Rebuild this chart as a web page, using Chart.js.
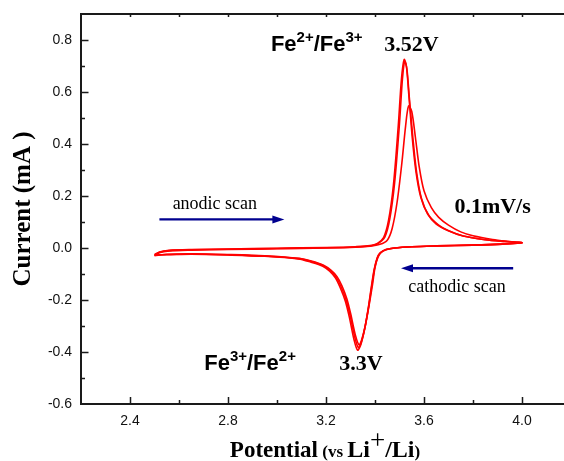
<!DOCTYPE html>
<html>
<head>
<meta charset="utf-8">
<script src="https://cdn.jsdelivr.net/npm/chart.js@4.4.0/dist/chart.umd.min.js"></script>
<style>
  html, body { margin: 0; padding: 0; background: #fff; overflow: hidden; }
  #wrap { width: 564px; height: 461px; overflow: hidden; position: relative; }
  #box { position: absolute; left: 0; top: 0; width: 572px; height: 461px; }
</style>
</head>
<body>
<div id="wrap"><div id="box"><canvas id="chart"></canvas></div></div>
<script>
// cyclic voltammetry, three cycles at 0.1 mV/s (anodic sweep then cathodic sweep)
var cycle1V = [2.50,2.52,2.56,2.65,2.80,3.00,3.20,3.32,3.38,3.42,3.45,3.47,3.49,3.51,3.525,3.537,3.55,3.565,3.58,3.60,3.63,3.66,3.70,3.75,3.80,3.88,3.95,4.00,
               3.92,3.80,3.65,3.55,3.48,3.445,3.425,3.412,3.40,3.39,3.375,3.36,3.345,3.335,3.32,3.30,3.285,3.265,3.245,3.22,3.19,3.14,3.09,2.95,2.80,2.65,2.55,2.50];
var cycle1I = [-0.030,-0.018,-0.011,-0.008,-0.006,-0.003,0.000,0.003,0.007,0.014,0.030,0.075,0.175,0.330,0.470,0.546,0.525,0.425,0.315,0.220,0.155,0.118,0.088,0.062,0.047,0.033,0.025,0.020,
               0.015,0.011,0.008,0.005,0.000,-0.006,-0.017,-0.035,-0.075,-0.140,-0.225,-0.300,-0.355,-0.373,-0.335,-0.250,-0.195,-0.145,-0.110,-0.085,-0.066,-0.050,-0.040,-0.030,-0.025,-0.022,-0.024,-0.030];

var cycle2V = [2.50,2.52,2.56,2.65,2.80,3.00,3.20,3.32,3.38,3.41,3.44,3.46,3.48,3.50,3.512,3.521,3.53,3.54,3.555,3.57,3.59,3.62,3.66,3.70,3.76,3.85,3.93,4.00,
               3.92,3.80,3.65,3.55,3.48,3.445,3.423,3.41,3.398,3.387,3.373,3.358,3.343,3.332,3.318,3.298,3.282,3.262,3.242,3.218,3.19,3.14,3.09,2.95,2.80,2.65,2.55,2.50];
var cycle2I = [-0.028,-0.016,-0.010,-0.007,-0.005,-0.002,0.001,0.004,0.008,0.016,0.042,0.110,0.250,0.480,0.650,0.718,0.690,0.580,0.420,0.290,0.190,0.125,0.088,0.066,0.046,0.032,0.025,0.020,
               0.015,0.011,0.008,0.005,0.000,-0.006,-0.018,-0.038,-0.080,-0.145,-0.232,-0.310,-0.365,-0.383,-0.345,-0.258,-0.200,-0.150,-0.113,-0.087,-0.068,-0.052,-0.041,-0.031,-0.026,-0.023,-0.025,-0.028];

var cycle3V = [2.50,2.52,2.56,2.65,2.80,3.00,3.20,3.32,3.38,3.41,3.435,3.455,3.475,3.495,3.508,3.519,3.528,3.538,3.552,3.567,3.587,3.615,3.65,3.70,3.76,3.85,3.93,4.00,
               3.92,3.80,3.65,3.55,3.48,3.445,3.42,3.408,3.396,3.385,3.371,3.356,3.341,3.329,3.315,3.295,3.279,3.259,3.239,3.215,3.187,3.137,3.087,2.95,2.80,2.65,2.55,2.50];
var cycle3I = [-0.026,-0.015,-0.009,-0.006,-0.004,-0.001,0.002,0.005,0.009,0.018,0.040,0.105,0.240,0.470,0.650,0.725,0.700,0.590,0.425,0.295,0.195,0.130,0.092,0.066,0.046,0.032,0.025,0.020,
               0.015,0.011,0.008,0.005,0.000,-0.007,-0.020,-0.040,-0.085,-0.150,-0.240,-0.320,-0.375,-0.393,-0.355,-0.265,-0.205,-0.155,-0.116,-0.089,-0.070,-0.054,-0.042,-0.032,-0.027,-0.024,-0.026,-0.026];

var xMin = 2.2, xMax = 4.2;
var yMin = -0.6, yMax = 0.9;

var SANS = '"Liberation Sans", Arial, sans-serif';
var SERIF = '"Liberation Serif", "Times New Roman", serif';

function toPoints(vs, is) {
    var pts = [];
    for (var i = 0; i < vs.length; i++) pts.push({x: vs[i], y: is[i]});
    return pts;
}

function drawRuns(ctx, x, y, runs, align) {
    var total = 0;
    runs.forEach(function(r) { ctx.font = r.f; r.w = ctx.measureText(r.t).width; total += r.w; });
    var cx = align === 'center' ? x - total / 2 : x;
    ctx.textAlign = 'left';
    ctx.textBaseline = 'alphabetic';
    runs.forEach(function(r) {
        ctx.font = r.f;
        ctx.fillText(r.t, cx, y - (r.rise || 0));
        cx += r.w;
    });
}

function arrow(ctx, x1, y1, x2, y2) {
    var dir = x2 > x1 ? 1 : -1;
    ctx.save();
    ctx.strokeStyle = '#00008f';
    ctx.fillStyle = '#00008f';
    ctx.lineWidth = 2.4;
    ctx.beginPath();
    ctx.moveTo(x1, y1);
    ctx.lineTo(x2 - dir * 8, y2);
    ctx.stroke();
    ctx.beginPath();
    ctx.moveTo(x2, y2);
    ctx.lineTo(x2 - dir * 12, y2 - 4);
    ctx.lineTo(x2 - dir * 12, y2 + 4);
    ctx.closePath();
    ctx.fill();
    ctx.restore();
}

var decor = {
    id: 'decor',
    afterDraw: function(chart) {
        var ctx = chart.ctx, a = chart.chartArea;
        var xs = chart.scales.x, ys = chart.scales.y;
        ctx.save();
        // frame (right side falls just outside the visible area, as in the original crop)
        ctx.strokeStyle = '#1a1a1a';
        ctx.lineWidth = 2;
        ctx.strokeRect(a.left, a.top, a.right - a.left, a.bottom - a.top);
        // inward ticks
        ctx.lineWidth = 1.5;
        ctx.beginPath();
        xs.ticks.forEach(function(t) {
            var k = Math.round(t.value * 10);
            if (k <= 22 || k >= 42) return;
            var px = Math.round(xs.getPixelForValue(t.value)) + 0.5;
            var len = (k % 4 === 0) ? 7 : 4;
            ctx.moveTo(px, a.bottom); ctx.lineTo(px, a.bottom - len);
            ctx.moveTo(px, a.top); ctx.lineTo(px, a.top + 3);
        });
        ys.ticks.forEach(function(t) {
            var k = Math.round(t.value * 10);
            if (k <= -6 || k >= 9) return;
            var py = Math.round(ys.getPixelForValue(t.value)) + 0.5;
            var len = (k % 2 === 0) ? 7.5 : 4;
            ctx.moveTo(a.left, py); ctx.lineTo(a.left + len, py);
        });
        ctx.stroke();

        // axis titles
        ctx.fillStyle = '#000';
        drawRuns(ctx, 325, 457, [
            {t: 'Potential', f: 'bold 23px ' + SERIF},
            {t: ' (vs ', f: 'bold 17px ' + SERIF},
            {t: 'Li', f: 'bold 24px ' + SERIF},
            {t: '+', f: '27px ' + SERIF, rise: 8},
            {t: '/Li', f: 'bold 24px ' + SERIF},
            {t: ')', f: 'bold 17px ' + SERIF}
        ], 'center');
        ctx.save();
        ctx.translate(30, (a.top + a.bottom) / 2);
        ctx.rotate(-Math.PI / 2);
        ctx.font = 'bold 25px ' + SERIF;
        ctx.textAlign = 'center';
        ctx.textBaseline = 'alphabetic';
        ctx.fillText('Current (mA )', 0, 0);
        ctx.restore();

        // annotations (anchored in data units)
        var X = function(v) { return xs.getPixelForValue(v); };
        var Y = function(v) { return ys.getPixelForValue(v); };
        drawRuns(ctx, X(2.975), Y(0.757), [
            {t: 'Fe', f: 'bold 22px ' + SANS},
            {t: '2+', f: 'bold 15px ' + SANS, rise: 9},
            {t: '/Fe', f: 'bold 22px ' + SANS},
            {t: '3+', f: 'bold 15px ' + SANS, rise: 9}
        ]);
        drawRuns(ctx, X(3.438), Y(0.757), [{t: '3.52V', f: 'bold 22px ' + SERIF}]);
        drawRuns(ctx, X(3.724), Y(0.135), [{t: '0.1mV/s', f: 'bold 22px ' + SERIF}]);
        drawRuns(ctx, X(2.574), Y(0.149), [{t: 'anodic scan', f: '18px ' + SERIF}]);
        arrow(ctx, X(2.520), Y(0.110), X(3.030), Y(0.110));
        drawRuns(ctx, X(3.536), Y(-0.168), [{t: 'cathodic scan', f: '18px ' + SERIF}]);
        arrow(ctx, X(3.964), Y(-0.078), X(3.506), Y(-0.078));
        drawRuns(ctx, X(2.703), Y(-0.469), [
            {t: 'Fe', f: 'bold 22px ' + SANS},
            {t: '3+', f: 'bold 15px ' + SANS, rise: 9},
            {t: '/Fe', f: 'bold 22px ' + SANS},
            {t: '2+', f: 'bold 15px ' + SANS, rise: 9}
        ]);
        drawRuns(ctx, X(3.254), Y(-0.469), [{t: '3.3V', f: 'bold 22px ' + SERIF}]);
        ctx.restore();
    }
};

var lineStyle = {showLine: true, borderColor: '#ff0000', borderWidth: 1.6, pointRadius: 0, tension: 0.3, fill: false};

new Chart(document.getElementById('chart'), {
    type: 'scatter',
    data: {
        datasets: [
            Object.assign({label: 'cycle 1', data: toPoints(cycle1V, cycle1I)}, lineStyle),
            Object.assign({label: 'cycle 2', data: toPoints(cycle2V, cycle2I)}, lineStyle),
            Object.assign({label: 'cycle 3', data: toPoints(cycle3V, cycle3I)}, lineStyle)
        ]
    },
    options: {
        responsive: true,
        maintainAspectRatio: false,
        animation: false,
        devicePixelRatio: 1,
        layout: {padding: {top: 14, right: 1, left: 0, bottom: 0}},
        plugins: {legend: {display: false}, tooltip: {enabled: false}},
        scales: {
            x: {
                type: 'linear', min: xMin, max: xMax,
                grid: {display: false, drawTicks: false},
                border: {display: false},
                afterFit: function(s) { s.height = 57; s.paddingLeft = 0; s.paddingRight = 0; },
                ticks: {
                    stepSize: 0.2, padding: 9, color: '#111', maxRotation: 0, autoSkip: false,
                    font: {family: SANS, size: 14},
                    callback: function(v) {
                        var k = Math.round(v * 10);
                        return (k % 4 === 0 && k > 22 && k < 42) ? (k / 10).toFixed(1) : '';
                    }
                }
            },
            y: {
                type: 'linear', min: yMin, max: yMax,
                grid: {display: false, drawTicks: false},
                border: {display: false},
                afterFit: function(s) { s.width = 81; s.paddingTop = 0; s.paddingBottom = 0; },
                ticks: {
                    stepSize: 0.1, padding: 9, color: '#111', autoSkip: false,
                    font: {family: SANS, size: 14},
                    callback: function(v) {
                        var k = Math.round(v * 10);
                        return (k % 2 === 0 && k < 9) ? (k / 10).toFixed(1) : '';
                    }
                }
            }
        }
    },
    plugins: [decor]
});
</script>
</body>
</html>
